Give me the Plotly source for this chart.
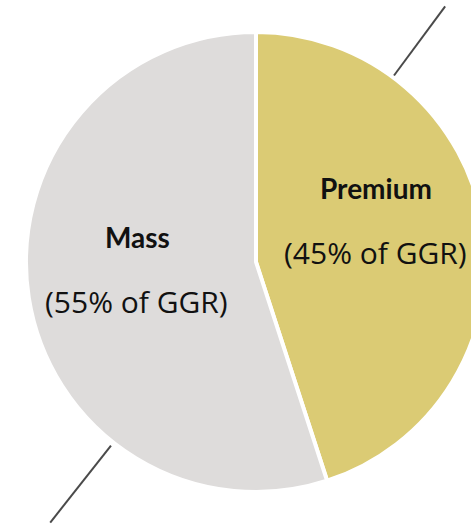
import plotly.graph_objects as go
import math

labels = ["Premium", "Mass"]
values = [45, 55]
colors = ["#DBCB74", "#DEDCDB"]
subtitles = ["(45% of GGR)", "(55% of GGR)"]

W, H = 500, 524
L, T, S = 26, 32, 460          # plot area left/top and size (px)
cx, cy = L + S / 2, T + S / 2


def px(x, y):
    return (x - L) / S, 1 - (y - T) / S


fig = go.Figure(go.Pie(
    labels=labels, values=values, sort=False, direction="clockwise", rotation=0,
    marker=dict(colors=colors, line=dict(color="white", width=4)),
    textinfo="none", hoverinfo="skip", showlegend=False,
    domain=dict(x=[0, 1], y=[0, 1]),
))

# decorative radial guide lines (angle clockwise from top, radii in px)
for angdeg, r0, r1 in [(36.5, 232, 318), (218.3, 234, 332)]:
    a = math.radians(angdeg)
    dx, dy = math.sin(a), -math.cos(a)
    x0, y0 = px(cx + r0 * dx, cy + r0 * dy)
    x1, y1 = px(cx + r1 * dx, cy + r1 * dy)
    fig.add_shape(type="line", xref="paper", yref="paper", x0=x0, y0=y0, x1=x1, y1=y1,
                  line=dict(color="#4a4a4a", width=2))

ann = [(labels[0], 376, 188, True), (subtitles[0], 375, 252, False),
       (labels[1], 137, 237, True), (subtitles[1], 136, 301, False)]
for t, x, y, b in ann:
    ax, ay = px(x, y)
    fig.add_annotation(x=ax, y=ay, xref="paper", yref="paper", showarrow=False,
                       xanchor="center", yanchor="middle",
                       text=f"<b>{t}</b>" if b else t,
                       font=dict(family="Lato" if b else "Open Sans",
                                 size=28 if b else 30, color="#111111"))

fig.update_layout(width=W, height=H, margin=dict(l=L, r=W - L - S, t=T, b=H - T - S),
                  paper_bgcolor="white", plot_bgcolor="white")
fig.write_html("out.html", config={"displayModeBar": False},
               post_script="document.body.style.margin='0';document.body.style.overflow='hidden';document.documentElement.style.overflow='hidden';")
